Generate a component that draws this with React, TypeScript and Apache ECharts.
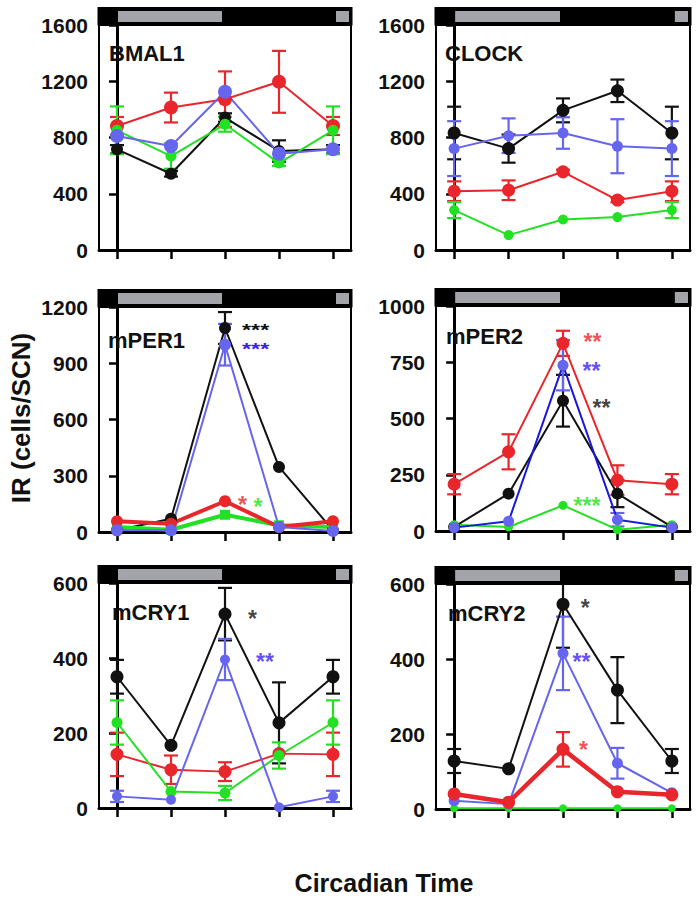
import React, { useEffect, useRef } from "react";
import * as echarts from "echarts";

// ---------------- data ----------------
const CT = [0, 6, 12, 18, 24];
const PANEL_NAMES = ["BMAL1", "CLOCK", "mPER1", "mPER2", "mCRY1", "mCRY2"];
const Y_MAX = [1600, 1600, 1200, 1000, 600, 600];
const Y_STEP = [400, 400, 300, 250, 200, 200];

const BMAL1_BLACK = [716, 542, 942, 704, 716];
const BMAL1_BLACK_ERR = [30, 20, 30, 76, 30];
const BMAL1_RED = [882, 1013, 1072, 1196, 882];
const BMAL1_RED_ERR = [64, 106, 198, 220, 64];
const BMAL1_GREEN = [851, 668, 894, 618, 851];
const BMAL1_GREEN_ERR = [170, 90, 53, 20, 170];
const BMAL1_BLUE = [811, 739, 1125, 685, 716];
const BMAL1_BLUE_ERR = [0, 0, 0, 0, 0];

const CLOCK_BLACK = [832, 721, 993, 1132, 832];
const CLOCK_BLACK_ERR = [187, 100, 85, 80, 187];
const CLOCK_RED = [418, 425, 556, 355, 418];
const CLOCK_RED_ERR = [70, 70, 15, 15, 70];
const CLOCK_GREEN = [284, 106, 217, 234, 284];
const CLOCK_GREEN_ERR = [57, 0, 0, 0, 57];
const CLOCK_BLUE = [721, 813, 832, 738, 721];
const CLOCK_BLUE_ERR = [195, 123, 112, 192, 195];

const PER1_BLACK = [9, 71, 1088, 347, 9];
const PER1_BLACK_ERR = [0, 0, 85, 0, 0];
const PER1_RED = [57, 44, 164, 27, 57];
const PER1_RED_ERR = [0, 0, 0, 0, 0];
const PER1_GREEN = [27, 12, 92, 36, 27];
const PER1_GREEN_ERR = [0, 0, 0, 0, 0];
const PER1_BLUE = [9, 9, 999, 27, 5];
const PER1_BLUE_ERR = [0, 0, 111, 0, 0];

const PER2_BLACK = [18, 166, 579, 166, 18];
const PER2_BLACK_ERR = [0, 0, 115, 60, 0];
const PER2_RED = [208, 352, 834, 226, 208];
const PER2_RED_ERR = [45, 78, 56, 66, 45];
const PER2_GREEN = [28, 18, 114, 6, 28];
const PER2_GREEN_ERR = [0, 0, 0, 0, 0];
const PER2_BLUE = [15, 43, 737, 50, 15];
const PER2_BLUE_ERR = [0, 0, 112, 30, 0];

const CRY1_BLACK = [350, 167, 517, 227, 350];
const CRY1_BLACK_ERR = [45, 0, 70, 108, 45];
const CRY1_RED = [143, 102, 97, 145, 143];
const CRY1_RED_ERR = [58, 38, 25, 0, 58];
const CRY1_GREEN = [228, 44, 40, 140, 228];
const CRY1_GREEN_ERR = [59, 0, 19, 35, 59];
const CRY1_BLUE = [31, 22, 396, 2, 31];
const CRY1_BLUE_ERR = [15, 0, 55, 0, 15];

const CRY2_BLACK = [128, 107, 546, 317, 128];
const CRY2_BLACK_ERR = [32, 0, 116, 88, 32];
const CRY2_RED = [40, 18, 159, 46, 38];
const CRY2_RED_ERR = [0, 0, 46, 0, 0];
const CRY2_GREEN = [2, 2, 2, 2, 2];
const CRY2_GREEN_ERR = [0, 0, 0, 0, 0];
const CRY2_BLUE = [22, 13, 415, 122, 43];
const CRY2_BLUE_ERR = [0, 0, 98, 41, 0];

// significance marks: [panel, ct, value, text, colorKey]
const SIG_MARKS: [number, number, number, string, string][] = [
  [2, 13.4, 169, "*", "red"],
  [2, 15.1, 160, "*", "green"],
  [3, 14.2, 863, "**", "red"],
  [3, 14.1, 733, "**", "blueStar"],
  [3, 15.2, 567, "**", "black"],
  [3, 13.1, 134, "***", "green"],
  [4, 14.5, 517, "*", "black"],
  [4, 15.4, 403, "**", "blueStar"],
  [5, 13.9, 549, "*", "black"],
  [5, 13.0, 406, "**", "blueStar"],
  [5, 13.7, 170, "*", "red"],
];
// stacked marks in mPER1 (drawn narrower font, widened)
const STACKED_MARKS: [number, number, number, string, string][] = [
  [2, 13.9, 1093, "***", "black"],
  [2, 13.9, 992, "***", "blueStar"],
];

// ---------------- styling / layout ----------------
const COLORS: Record<string, string> = {
  black: "#111111",
  red: "#e8262c",
  green: "#22e022",
  blue: "#6565ee",
  darkBlue: "#1818dc",
  blueStar: "#3a20ee",
};
const FONT = '"Liberation Sans", Arial, Helvetica, sans-serif';
const COL_LEFT = [99, 436];
const COL_WIDTH = [252, 254];
const ROW_TOP = [25, 25, 307, 306, 583, 584];
const GRID_H = 225;
const TITLE_POS = [
  [109, 53],
  [445, 53],
  [108, 340],
  [446, 336],
  [112, 612],
  [448, 613],
];

type SDef = {
  key: string;
  values: number[];
  errs: number[];
  size: number;
  width?: number;
  lineColor?: string;
  symbol?: string;
};

const PANELS: SDef[][] = [
  [
    { key: "black", values: BMAL1_BLACK, errs: BMAL1_BLACK_ERR, size: 12 },
    { key: "red", values: BMAL1_RED, errs: BMAL1_RED_ERR, size: 14 },
    { key: "green", values: BMAL1_GREEN, errs: BMAL1_GREEN_ERR, size: 11 },
    { key: "blue", values: BMAL1_BLUE, errs: BMAL1_BLUE_ERR, size: 14 },
  ],
  [
    { key: "black", values: CLOCK_BLACK, errs: CLOCK_BLACK_ERR, size: 13 },
    { key: "red", values: CLOCK_RED, errs: CLOCK_RED_ERR, size: 13 },
    { key: "green", values: CLOCK_GREEN, errs: CLOCK_GREEN_ERR, size: 10 },
    { key: "blue", values: CLOCK_BLUE, errs: CLOCK_BLUE_ERR, size: 11 },
  ],
  [
    { key: "black", values: PER1_BLACK, errs: PER1_BLACK_ERR, size: 12 },
    { key: "green", values: PER1_GREEN, errs: PER1_GREEN_ERR, size: 10, width: 4, symbol: "rect" },
    { key: "red", values: PER1_RED, errs: PER1_RED_ERR, size: 12, width: 4 },
    { key: "blue", values: PER1_BLUE, errs: PER1_BLUE_ERR, size: 12 },
  ],
  [
    { key: "black", values: PER2_BLACK, errs: PER2_BLACK_ERR, size: 12 },
    { key: "red", values: PER2_RED, errs: PER2_RED_ERR, size: 13 },
    { key: "green", values: PER2_GREEN, errs: PER2_GREEN_ERR, size: 9 },
    { key: "blue", values: PER2_BLUE, errs: PER2_BLUE_ERR, size: 11, lineColor: COLORS.darkBlue },
  ],
  [
    { key: "black", values: CRY1_BLACK, errs: CRY1_BLACK_ERR, size: 13 },
    { key: "red", values: CRY1_RED, errs: CRY1_RED_ERR, size: 13 },
    { key: "green", values: CRY1_GREEN, errs: CRY1_GREEN_ERR, size: 11 },
    { key: "blue", values: CRY1_BLUE, errs: CRY1_BLUE_ERR, size: 10 },
  ],
  [
    { key: "black", values: CRY2_BLACK, errs: CRY2_BLACK_ERR, size: 13 },
    { key: "green", values: CRY2_GREEN, errs: CRY2_GREEN_ERR, size: 8 },
    { key: "blue", values: CRY2_BLUE, errs: CRY2_BLUE_ERR, size: 11 },
    { key: "red", values: CRY2_RED, errs: CRY2_RED_ERR, size: 13, width: 4.5 },
  ],
];

function buildOption() {
  const grid: any[] = [];
  const xAxis: any[] = [];
  const yAxis: any[] = [];
  const series: any[] = [];
  const graphic: any[] = [];

  PANELS.forEach((defs, i) => {
    const col = i % 2;
    const left = COL_LEFT[col];
    const width = COL_WIDTH[col];
    const top = ROW_TOP[i];
    const px = (ct: number) => left + ((ct + 2) / 28) * width;

    grid.push({
      left,
      top,
      width,
      height: GRID_H,
      show: true,
      borderColor: "#000",
      borderWidth: 2,
      backgroundColor: "#fff",
    });
    xAxis.push({
      type: "value",
      gridIndex: i,
      min: -2,
      max: 26,
      axisLine: { show: true, onZero: false, lineStyle: { color: "#000", width: 3 } },
      axisTick: {
        show: true,
        customValues: CT,
        length: 9,
        inside: false,
        lineStyle: { color: "#000", width: 2.5 },
      },
      axisLabel: { show: false },
      splitLine: { show: false },
    });
    yAxis.push({
      type: "value",
      gridIndex: i,
      min: 0,
      max: Y_MAX[i],
      interval: Y_STEP[i],
      axisLine: { show: true, lineStyle: { color: "#000", width: 3 } },
      axisTick: { show: true, length: 8, lineStyle: { color: "#000", width: 2.5 } },
      axisLabel: {
        show: true,
        color: "#111",
        fontSize: 21,
        fontWeight: "bold",
        fontFamily: FONT,
        margin: 11,
        formatter: (v: number) => String(v),
      },
      splitLine: { show: false },
    });

    defs.forEach((d) => {
      const color = COLORS[d.key];
      const errData = CT.map((ct, k) => [ct, d.values[k] - d.errs[k], d.values[k] + d.errs[k]]).filter(
        (_, k) => d.errs[k] > 0
      );
      if (errData.length) {
        series.push({
          type: "custom",
          xAxisIndex: i,
          yAxisIndex: i,
          clip: true,
          encode: { x: 0, y: [1, 2] },
          data: errData,
          renderItem: (params: any, api: any) => {
            const x = api.value(0);
            const lo = api.coord([x, api.value(1)]);
            const hi = api.coord([x, api.value(2)]);
            const hw = 7;
            const st = { stroke: color, lineWidth: 2.2 };
            return {
              type: "group",
              children: [
                { type: "line", shape: { x1: lo[0], y1: lo[1], x2: hi[0], y2: hi[1] }, style: st },
                { type: "line", shape: { x1: hi[0] - hw, y1: hi[1], x2: hi[0] + hw, y2: hi[1] }, style: st },
                { type: "line", shape: { x1: lo[0] - hw, y1: lo[1], x2: lo[0] + hw, y2: lo[1] }, style: st },
              ],
            };
          },
        });
      }
      series.push({
        type: "line",
        xAxisIndex: i,
        yAxisIndex: i,
        data: CT.map((ct, k) => [ct, d.values[k]]),
        symbol: d.symbol || "circle",
        symbolSize: d.size,
        showSymbol: true,
        clip: false,
        lineStyle: { color: d.lineColor || color, width: d.width || 2 },
        itemStyle: { color, borderWidth: 0 },
      });
    });

    // light/dark bar
    graphic.push({
      type: "rect",
      z: 100,
      shape: { x: left - 1.5, y: top - 18, width: width + 3, height: 18.5 },
      style: { fill: "#000" },
    });
    graphic.push({
      type: "rect",
      z: 101,
      shape: { x: px(0) + 1, y: top - 14, width: px(12) - px(0) - 4, height: 11 },
      style: { fill: "#a3a3aa" },
    });
    graphic.push({
      type: "rect",
      z: 101,
      shape: { x: px(24) + 3, y: top - 14, width: left + width - px(24) - 5, height: 11 },
      style: { fill: "#a3a3aa" },
    });
    graphic.push({
      type: "text",
      z: 101,
      x: TITLE_POS[i][0],
      y: TITLE_POS[i][1],
      style: {
        text: PANEL_NAMES[i],
        fill: "#111",
        fontSize: 22,
        fontWeight: "bold",
        fontFamily: FONT,
        align: "left",
        verticalAlign: "middle",
      },
    });
  });

  // significance asterisks
  SIG_MARKS.forEach((m) => {
    series.push({
      type: "scatter",
      xAxisIndex: m[0],
      yAxisIndex: m[0],
      z: 5,
      symbolSize: 1,
      itemStyle: { color: "rgba(0,0,0,0)" },
      data: [[m[1], m[2]]],
      label: {
        show: true,
        position: "right",
        distance: 0,
        formatter: m[3],
        color: COLORS[m[4]],
        fontSize: 23,
        fontWeight: "bold",
        fontFamily: FONT,
        offset: [0, 5],
      },
    });
  });

  graphic.push({
    type: "text",
    x: 21,
    y: 418,
    rotation: Math.PI / 2,
    style: {
      text: "IR (cells/SCN)",
      fill: "#111",
      fontSize: 26,
      fontWeight: "bold",
      fontFamily: FONT,
      align: "center",
      verticalAlign: "middle",
    },
  });
  graphic.push({
    type: "text",
    x: 384,
    y: 883,
    style: {
      text: "Circadian Time",
      fill: "#111",
      fontSize: 25,
      fontWeight: "bold",
      fontFamily: FONT,
      align: "center",
      verticalAlign: "middle",
    },
  });

  return {
    animation: false,
    backgroundColor: "#fff",
    grid,
    xAxis,
    yAxis,
    series,
    graphic,
  };
}

export default function App() {
  const ref = useRef<HTMLDivElement>(null);
  useEffect(() => {
    if (!ref.current) return;
    const chart = echarts.init(ref.current, undefined, { renderer: "svg" });
    const opt: any = buildOption();
    chart.setOption(opt);
    STACKED_MARKS.forEach((m) => {
      const p = chart.convertToPixel({ gridIndex: m[0] } as any, [m[1], m[2]]) as number[];
      opt.graphic.push({
        type: "text",
        z: 50,
        x: p[0],
        y: p[1] + 3.5,
        scaleX: 1.45,
        style: {
          text: m[3],
          fill: COLORS[m[4]],
          fontSize: 16,
          fontWeight: "bold",
          fontFamily: FONT,
          align: "left",
          verticalAlign: "middle",
        },
      });
    });
    chart.setOption(opt, true);
    return () => chart.dispose();
  }, []);
  return (
    <div
      ref={ref}
      style={{ position: "absolute", left: 0, top: 0, width: 699, height: 899, background: "#fff" }}
    />
  );
}
